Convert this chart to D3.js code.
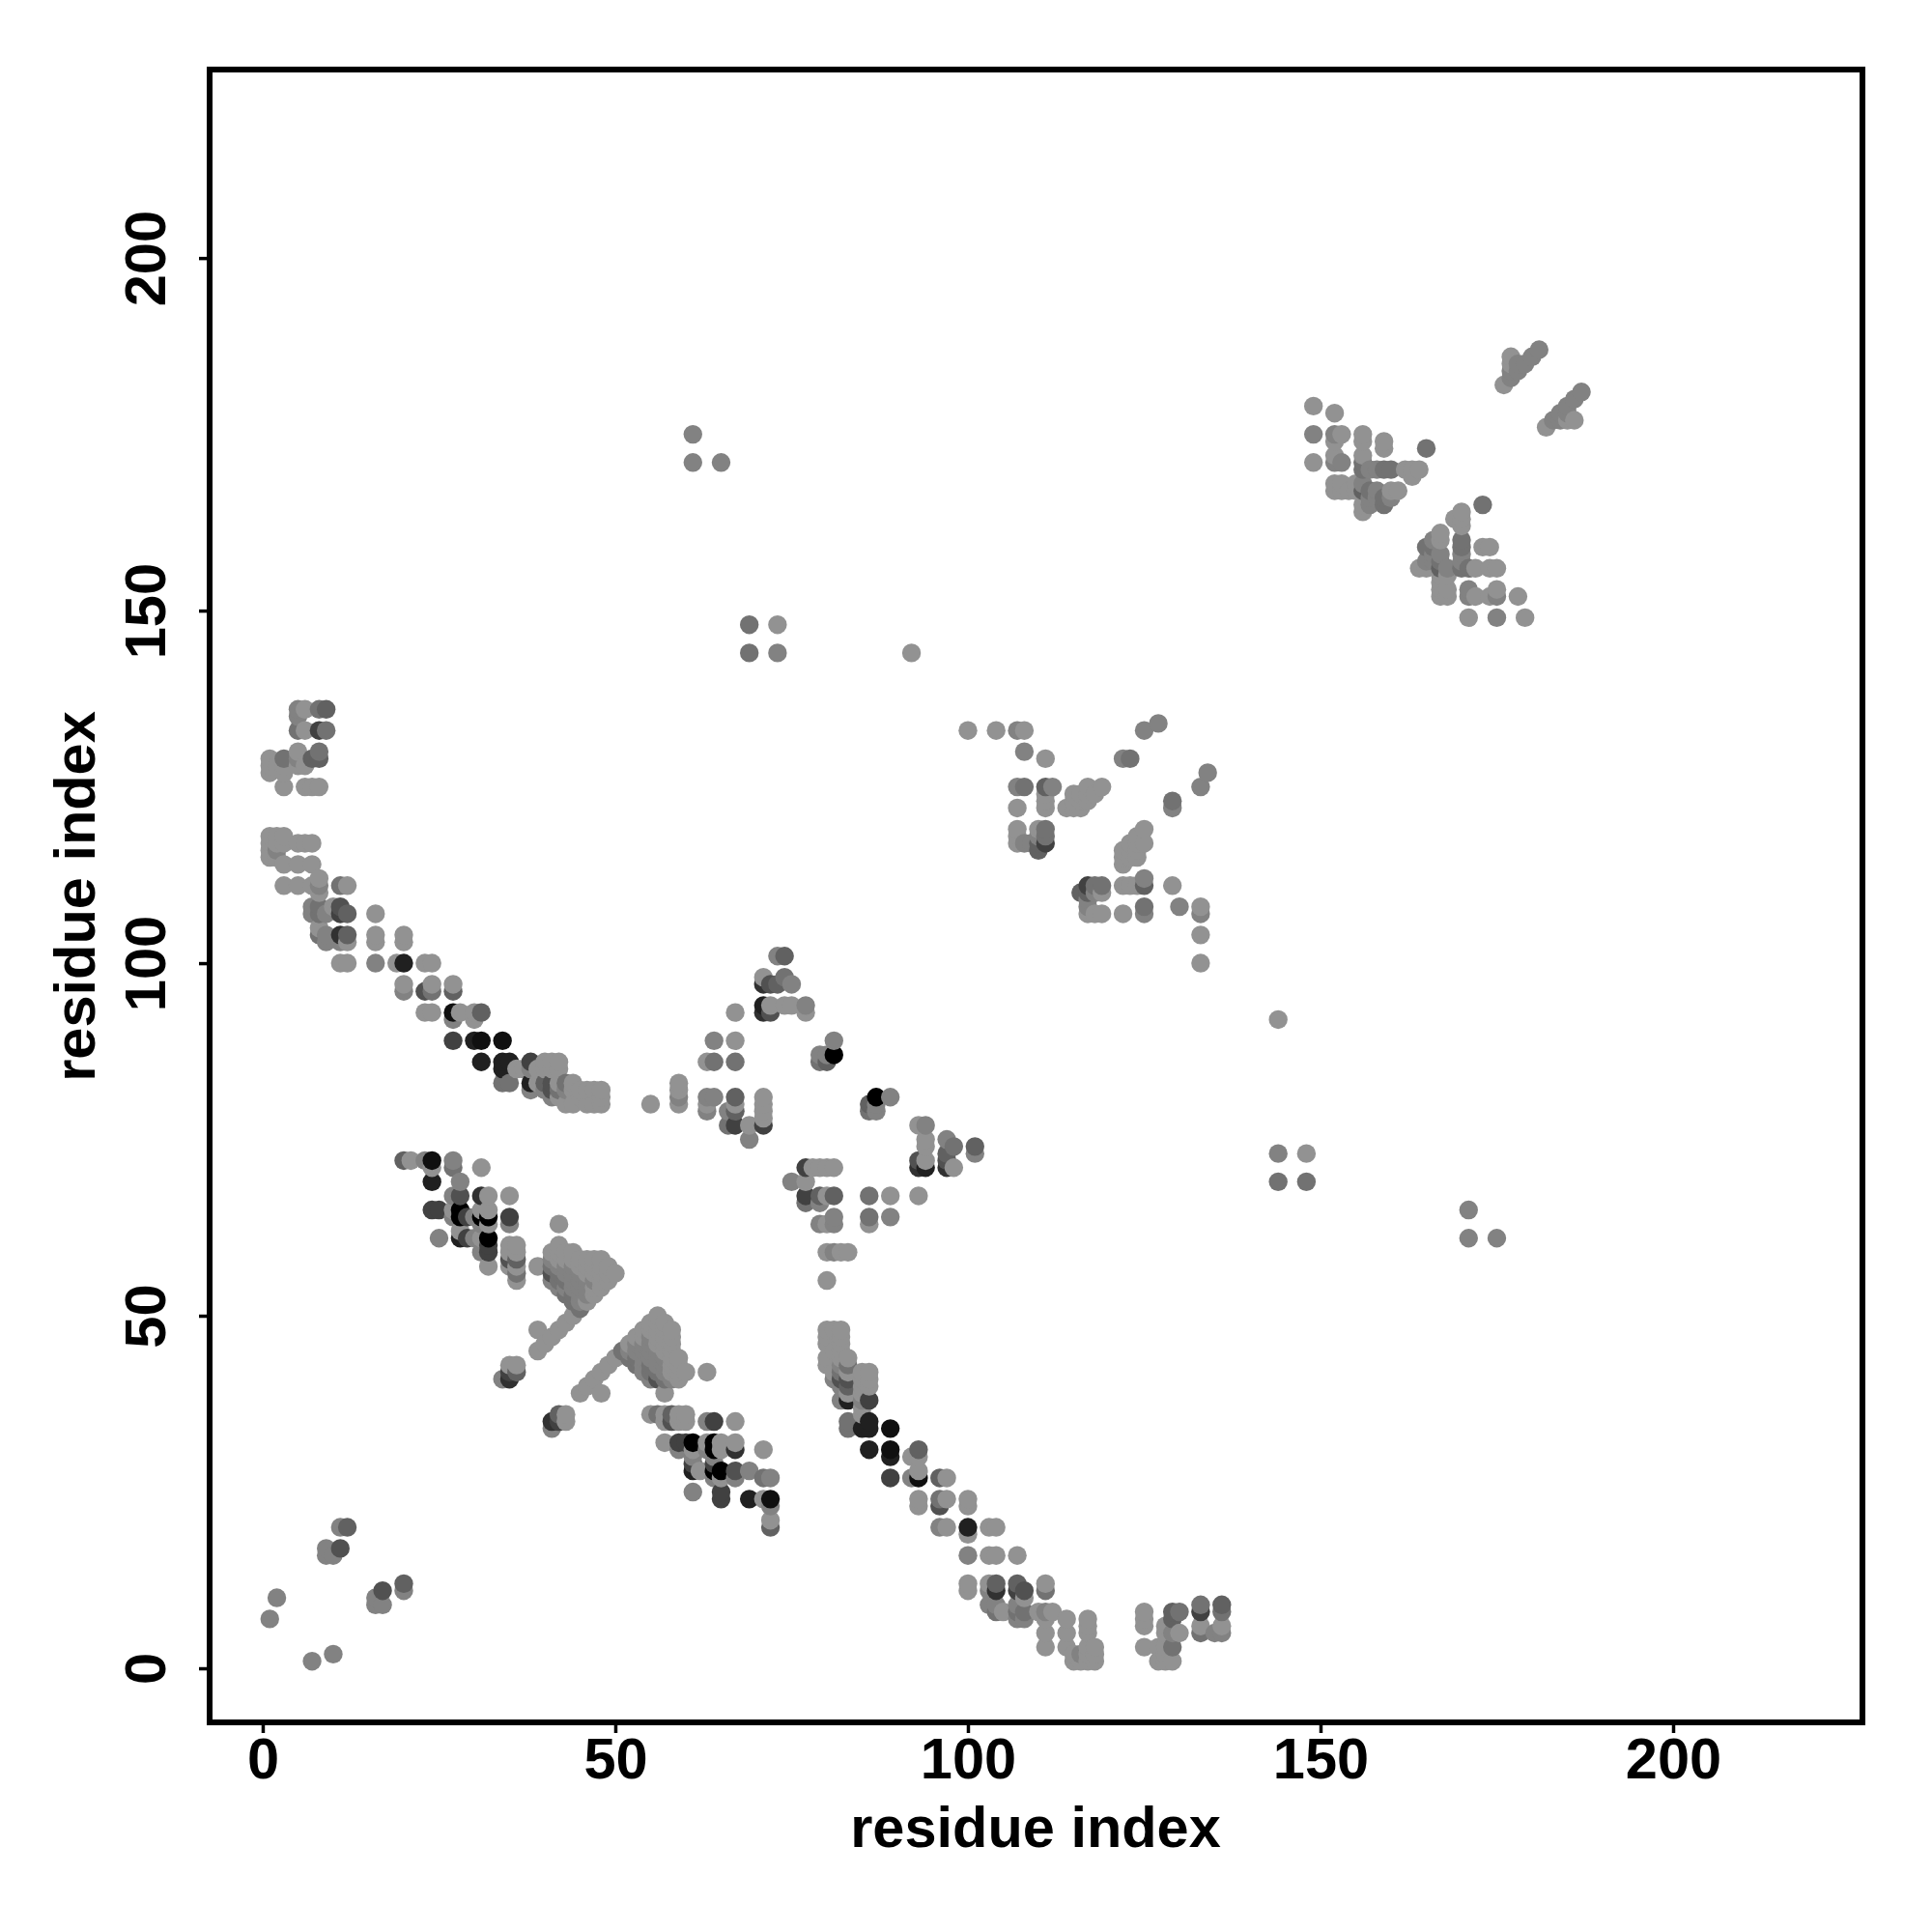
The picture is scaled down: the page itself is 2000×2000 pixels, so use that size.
<!DOCTYPE html>
<html><head><meta charset="utf-8">
<script src="https://cdn.jsdelivr.net/npm/d3@7"></script>
<style>html,body{margin:0;padding:0;background:#fff}svg{display:block}</style>
</head><body><svg id="c" width="2000" height="2000"></svg>
<script>
// Each contact: [residue i, residue j, darkness 0..9]; map is symmetric, i > j listed.
const nTerminal = [[7,1,1],[10,2,1],[16,9,1],[16,10,1],[17,9,1],[17,11,4],[20,11,1],[20,12,3]];
const longRange = [[144,69,2],[144,73,1],[148,69,2],[148,73,0],[144,92,0],[171,61,1],[171,65,1],[175,61,1]];
const triangleCore = [
[56,50,0],[55,49,0],[56,49,0],[57,49,0],[54,48,0],[55,48,0],[56,48,0],[57,48,0],[58,48,0],
[53,47,0],[54,47,0],[55,47,1],[56,47,0],[57,47,0],[58,47,0],
[52,46,0],[53,46,1],[54,46,1],[55,46,1],[56,46,0],[57,46,0],[58,46,0],
[51,45,2],[52,45,1],[53,45,1],[54,45,1],[55,45,1],[56,45,1],[57,45,0],[58,45,0],
[50,44,0],[52,44,2],[53,44,2],[54,44,1],[55,44,1],[56,44,1],[57,44,1],[58,44,0],[59,44,0],
[49,43,0],[53,43,2],[54,43,1],[55,43,2],[56,43,1],[57,43,1],[58,43,0],[59,43,0],
[48,42,0],[54,42,1],[55,42,2],[56,42,2],[57,42,1],[58,42,0],[59,42,0],[60,42,0],
[47,41,0],[55,41,1],[56,41,4],[57,41,2],[58,41,1],[59,41,0],
[46,40,0],[45,39,0],[48,39,0],[57,39,0],[63,42,0]];
const diagonalArm = [[41,34,1],[41,35,6],[42,35,5],[42,36,3],[43,35,0],[43,36,0]];
const strandPairA = [
[55,36,0],[56,36,2],[57,36,0],[58,36,3],[59,36,0],[60,36,0],
[57,35,0],[58,35,4],[59,35,0],[60,35,0],[63,35,1],[64,35,5],[67,35,0],
[57,32,0],[59,32,5],[60,32,5],[61,32,9],[63,32,0],[64,32,9],[65,32,0],[67,32,0],
[59,31,1],[61,31,0],[63,31,1],[64,31,9],[65,31,0],[67,31,6],[71,31,0],
[61,30,1],[64,30,1],[61,29,5],[64,29,5],[61,28,7],[62,28,0],[64,28,9],[65,28,9],[67,28,4],[69,28,1],
[64,27,1],[65,27,0],[67,27,1],[71,27,2],[72,27,1],[61,25,1],[65,25,5],[65,24,5],[69,24,7],[71,24,0],[72,24,8],
[72,23,1],[72,21,0],[72,20,3]];
const helixCluster = [
[75,69,1],[77,66,2],[77,67,5],[77,69,0],[77,71,5],[78,71,0],[79,63,1],[79,66,1],[79,67,3],[79,71,0],
[80,55,0],[80,59,0],[80,63,0],[80,67,0],[80,71,0],[81,59,1],[81,63,1],[81,64,1],[81,67,3],[81,71,0],
[82,59,0],[83,59,0],[86,63,0],[86,64,2],[86,67,2],[89,64,1],[89,67,0],[93,67,0],
[87,79,1],[86,79,2],[87,80,1],[86,80,3],[87,81,9],[89,81,1],
[93,71,6],[93,72,4],[93,77,0],[94,71,7],[94,72,0],[94,74,0],[94,75,0],[94,77,1],
[97,71,6],[97,72,4],[97,73,3],[97,75,1],[98,71,0],[98,74,2],[101,73,1],[101,74,3]];
const antiparallelBand = [
[80,48,0],[80,47,0],[80,46,0],[80,44,0],[80,43,0],[81,48,0],[81,45,0],[81,42,0],[81,41,1],
[82,48,0],[82,47,0],[82,46,0],[82,45,0],[82,44,0],[82,43,1],[82,42,2],[82,41,4],[82,40,1],[82,38,1],
[83,44,0],[83,43,2],[83,42,0],[83,41,4],[83,40,3],[83,39,0],[83,38,7],[83,35,2],[83,34,2],
[85,42,0],[85,41,0],[85,40,0],[85,39,0],[85,38,1],[85,37,0],[85,36,0],[85,34,7],
[86,42,0],[86,41,0],[86,40,0],[86,38,5],[86,35,7],[86,34,7],[86,31,7],
[89,34,8],[89,31,8],[89,30,7],[89,27,5],[92,30,0],[92,27,1],
[93,31,3],[93,30,0],[93,28,0],[93,27,8],[93,24,0],[93,23,0],
[96,27,3],[97,27,0],[96,24,2],[97,24,0],[96,23,4],[100,24,0],[100,23,0],
[96,20,1],[97,20,0],[100,20,7],[100,19,0],[103,20,0],[104,20,0],
[100,16,1],[103,16,0],[104,16,0],[107,16,0],
[100,12,0],[100,11,0],[103,12,0],[103,11,1],[104,12,3],[104,11,6],[107,12,3],[107,11,5],[108,11,4],[108,10,0],[111,12,0],[111,11,2],
[103,9,1],[104,9,1],[104,8,2],[105,8,0],[107,9,1],[107,8,2],[107,7,1],[108,8,2],[108,7,1],
[110,8,0],[111,8,1],[112,8,0],[111,7,0],[111,5,0],[111,3,0],
[114,7,0],[114,5,0],[114,3,0],[117,7,0],[117,6,0],[117,5,0],
[115,2,0],[115,1,0],[116,2,1],[116,1,0],[117,3,0],[117,2,0],[117,1,0],[118,3,0],[118,2,0],[118,1,0]];
const bandTail = [
[125,8,0],[125,7,0],[125,6,0],[125,3,0],[127,3,0],[127,1,0],
[128,6,0],[128,5,0],[128,3,0],[128,2,0],[128,1,0],
[129,8,3],[129,7,3],[129,5,1],[129,3,2],[129,1,0],[130,8,2],[130,5,0],
[133,9,2],[133,8,5],[133,6,0],[133,5,2],[135,5,1],
[136,9,3],[136,8,2],[136,6,0],[136,5,1]];
const clusterMiddle = [
[116,110,3],[117,107,0],[117,108,1],[117,109,1],[117,110,3],[117,111,5],[118,107,0],[118,110,1],[118,111,2],
[119,107,0],[119,110,0],[119,111,2],[122,107,0],[122,111,0],[122,114,0],[122,115,0],[122,116,0],
[123,111,0],[123,115,0],[123,116,0],[123,117,0],[124,111,0],[124,115,0],[124,116,0],[124,117,0],[124,118,0],
[125,107,1],[125,108,2],[125,111,3],[125,112,1],[125,117,0],[125,119,0],
[129,111,0],[129,122,1],[129,123,2],[130,108,1],[133,100,0],[133,104,0],[133,107,1],[133,108,0],[133,125,1],[134,127,1]];
const clusterUpper = [
[164,156,0],[165,156,0],[165,157,1],[165,159,2],[166,157,1],[166,158,1],[166,159,2],[166,160,1],
[167,152,0],[167,153,0],[167,154,0],[167,155,0],[167,156,3],[167,157,2],[167,158,1],[167,160,0],[167,161,0],
[168,152,0],[168,153,0],[168,155,0],[168,156,1],[169,163,0],
[170,156,2],[170,157,1],[170,158,1],[170,159,2],[170,160,2],[170,162,0],[170,163,0],[170,164,0],
[171,149,0],[171,152,1],[171,153,1],[171,156,2],[172,152,0],[172,156,0],[173,159,0],[173,165,2],
[174,152,0],[174,156,0],[174,159,0],[175,149,1],[175,152,1],[175,153,0],[175,156,0],[178,152,0],[179,149,0]];
const cTerminal = [[182,176,0],[183,177,1],[184,177,1],[184,178,1],[185,177,0],[185,178,1],[185,179,1],[186,177,0],[186,180,1],[187,181,1]];

const tickValues = [0, 50, 100, 150, 200];
const axisTitle = "residue index";

const half = [nTerminal, longRange, triangleCore, diagonalArm, strandPairA, helixCluster,
              antiparallelBand, bandTail, clusterMiddle, clusterUpper, cTerminal].flat();
const contacts = half.concat(half.map(d => [d[1], d[0], d[2]]))
  .sort((a, b) => d3.ascending(a[0], b[0]) || d3.ascending(a[1], b[1]));

const frame = {l: 217, r: 1928, t: 72, b: 1783};
const font = '"Liberation Sans", Arial, sans-serif';
const x = d3.scaleLinear().domain([-7.53, 226.85]).range([frame.l, frame.r]);
const y = d3.scaleLinear().domain([-7.67, 226.73]).range([frame.b, frame.t]);
const shade = d3.scaleLinear().domain([0, 9]).range(["#929292", "#000000"]);

const svg = d3.select("#c");
svg.append("g").selectAll("circle").data(contacts).join("circle")
  .attr("cx", d => x(d[0])).attr("cy", d => y(d[1])).attr("r", 9.7)
  .attr("fill", d => shade(d[2]));

svg.append("rect").attr("x", frame.l).attr("y", frame.t)
  .attr("width", frame.r - frame.l).attr("height", frame.b - frame.t)
  .attr("fill", "none").attr("stroke", "#000").attr("stroke-width", 6);

const ax = svg.append("g").attr("transform", `translate(0,${frame.b})`)
  .call(d3.axisBottom(x).tickValues(tickValues).tickSize(11).tickPadding(14));
const ay = svg.append("g").attr("transform", `translate(${frame.l},0)`)
  .call(d3.axisLeft(y).tickValues(tickValues).tickSize(11).tickPadding(0));
[ax, ay].forEach(g => {
  g.select(".domain").remove();
  g.selectAll("line").attr("stroke", "#000").attr("stroke-width", 3.5);
  g.selectAll("text").attr("fill", "#000")
    .style("font-family", font).style("font-weight", "bold").style("font-size", "59.5px");
});
ax.selectAll("text").attr("dy", null).attr("dominant-baseline", "auto").attr("y", 58).attr("text-anchor", "middle");
ay.selectAll("text").attr("x", null).attr("dy", null).attr("text-anchor", "middle")
  .attr("transform", "translate(-46,0) rotate(-90)");

svg.append("text").text(axisTitle).attr("x", 1072).attr("y", 1912).attr("text-anchor", "middle")
  .style("font-family", font).style("font-weight", "bold").style("font-size", "59.5px");
svg.append("text").text(axisTitle).attr("text-anchor", "middle")
  .attr("transform", "translate(98,928) rotate(-90)")
  .style("font-family", font).style("font-weight", "bold").style("font-size", "59.5px");
</script></body></html>
